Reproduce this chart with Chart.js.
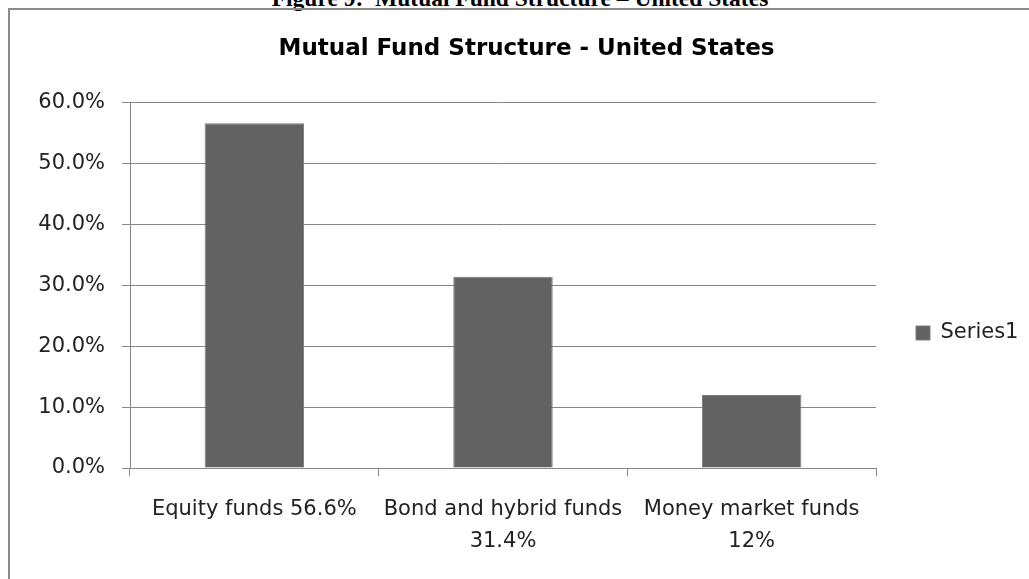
<!DOCTYPE html>
<html>
<head>
<meta charset="utf-8">
<script src="https://cdn.jsdelivr.net/npm/chart.js@4.4.1/dist/chart.umd.min.js"></script>
<style>
  html, body { margin: 0; padding: 0; background: #ffffff; overflow: hidden; }
  #wrap { position: relative; width: 1029px; height: 579px; overflow: hidden; }
  #caption {
    position: absolute; left: 0; width: 1040px; top: -13px; text-align: center;
    font: bold 23.5px "Liberation Serif", "Times New Roman", serif; line-height: 23px; color: #000;
    white-space: nowrap;
  }
  #frame {
    position: absolute; left: 8px; top: 8px; width: 2000px; height: 2000px;
    border-left: 2px solid #8a8a8a; border-top: 2px solid #8a8a8a;
  }
  #c { position: absolute; left: 0; top: 0; }
</style>
</head>
<body>
<div id="wrap">
  <div id="caption">Figure 9:&nbsp; Mutual Fund Structure – United States</div>
  <div id="frame"></div>
  <canvas id="c" width="1029" height="579"></canvas>
</div>
<script>
const chartTitle = 'Mutual Fund Structure - United States';
const categories = [
  ['Equity funds 56.6%'],
  ['Bond and hybrid funds', '31.4%'],
  ['Money market funds', '12%']
];
const seriesName = 'Series1';
const seriesValues = [56.6, 31.4, 12.0];
const yTicks = [0, 10, 20, 30, 40, 50, 60];

const FONT = '"DejaVu Sans", sans-serif';
const gridColor = '#868686';

new Chart(document.getElementById('c'), {
  type: 'bar',
  data: {
    labels: categories,
    datasets: [{
      label: seriesName,
      data: seriesValues,
      backgroundColor: '#626262',
      borderColor: '#7c7c7c',
      borderWidth: 1,
      barPercentage: 0.4,
      categoryPercentage: 1.0
    }]
  },
  options: {
    responsive: false,
    animation: false,
    devicePixelRatio: 1,
    layout: { padding: { left: 34, right: 10, top: 0, bottom: 3 } },
    plugins: {
      title: {
        display: true,
        text: chartTitle,
        color: '#000',
        font: { family: FONT, size: 23, weight: 'bold', lineHeight: 1.2 },
        padding: { top: 35, bottom: 40 }
      },
      legend: {
        display: true,
        position: 'right',
        maxWidth: 143,
        title: {
          display: true,
          text: ' ',
          font: { family: FONT, size: 10, lineHeight: 1.2 },
          padding: { top: 78, bottom: 0 }
        },
        labels: {
          boxWidth: 14,
          boxHeight: 14,
          padding: 40,
          color: '#222',
          font: { family: FONT, size: 21 }
        }
      },
      tooltip: { enabled: false }
    },
    scales: {
      x: {
        grid: {
          display: true,
          drawOnChartArea: false,
          drawTicks: true,
          tickLength: 8,
          color: gridColor,
          offset: true
        },
        border: { display: true, color: gridColor, width: 1 },
        ticks: {
          color: '#222',
          padding: 18,
          maxRotation: 0,
          autoSkip: false,
          font: { family: FONT, size: 21, lineHeight: 32 / 21 }
        }
      },
      y: {
        min: 0,
        max: 60,
        afterBuildTicks: (scale) => { scale.ticks = yTicks.map(v => ({ value: v })); },
        afterFit: (scale) => { scale.width = 96; },
        grid: {
          color: gridColor,
          tickLength: 8,
          drawTicks: true
        },
        border: { display: true, color: gridColor, width: 1 },
        ticks: {
          color: '#222',
          padding: 17,
          font: { family: FONT, size: 21 },
          callback: (v) => Number(v).toFixed(1) + '%'
        }
      }
    }
  }
});
</script>
</body>
</html>
